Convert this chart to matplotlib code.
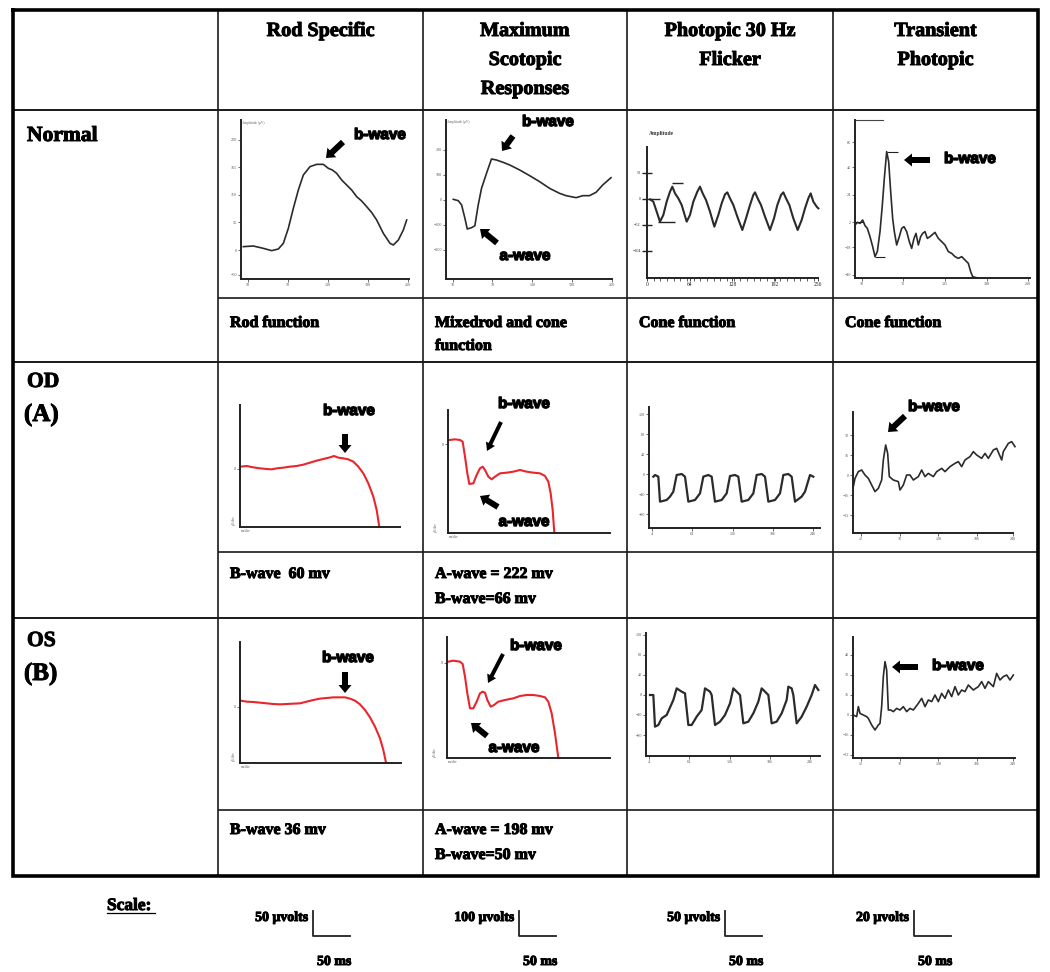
import matplotlib
matplotlib.use('Agg')
import matplotlib.pyplot as plt
from matplotlib.patches import FancyArrow
import matplotlib.patheffects as pe

plt.rcParams['font.family'] = ['Liberation Serif', 'DejaVu Serif']

W, H = 1050, 972

# ---------------- table text ----------------
column_titles = ["Rod Specific", "Maximum\nScotopic\nResponses", "Photopic 30 Hz\nFlicker", "Transient\nPhotopic"]
row_names = ["Normal", "OD", "OS"]
row_eyes = ["", "(A)", "(B)"]
normal_notes = ["Rod function", "Mixedrod and cone\nfunction", "Cone function", "Cone function"]
od_notes = ["B-wave  60 mv", "A-wave = 222 mv\nB-wave=66 mv", "", ""]
os_notes = ["B-wave 36 mv", "A-wave = 198 mv\nB-wave=50 mv", "", ""]
scale_volts = ["50 \u03bcvolts", "100 \u03bcvolts", "50 \u03bcvolts", "20 \u03bcvolts"]
scale_time = ["50 ms", "50 ms", "50 ms", "50 ms"]

# ---------------- waveforms (time in ms, amplitude in uV) ----------------
normal_rod_t = [3.5, 18.5, 33.5, 46, 56, 63.5, 71, 78.5, 86, 93.5, 103.5, 113.5, 123.5, 131, 137, 143.5,
                151, 158.5, 166, 173.5, 181, 188.5, 196, 203.5, 213.5, 223.5, 228.5, 236, 243.5, 248.5]
normal_rod_uv = [6.7, 8, 3.3, -1.3, 2, 13.3, 43.3, 83.3, 120, 150, 166.7, 171.3, 171.3, 163.3, 160, 153.3,
                 140, 130, 120, 106.7, 98, 86.7, 75, 60, 33.3, 13.3, 10, 20, 40, 60]

normal_max_t = [11, 18.5, 23.5, 28.5, 32, 38.5, 43.5, 48.5, 53.5, 61, 68.5, 76, 86, 96, 111, 126, 141,
                156, 171, 181, 196, 206, 216, 226, 236, 248.5]
normal_max_uv = [2.7, -2.7, -20, -73.3, -116, -110.7, -102.7, -20, 46.7, 106.7, 164, 160, 150.7, 140,
                 120, 97.3, 73.3, 46.7, 26.7, 17.3, 9.3, 17.3, 17.3, 30.7, 60, 89.3]

normal_flicker_t = [4.5, 9.5, 14.5, 19.5, 24.5, 29.5, 34.5, 38, 42, 47, 52, 59.5, 64.5, 69.5, 75.5, 79.5,
                    83.5, 88.5, 94.5, 101, 107, 112, 117, 120.5, 124.5, 129.5, 135.5, 143, 148.5, 154.5,
                    159.5, 162, 166, 171, 177, 184.5, 190.5, 195.5, 201, 204.5, 208.5, 213.5, 219.5, 226,
                    232, 237, 242, 245.5, 249.5, 254.5, 257]
normal_flicker_uv = [-0.7, -5.3, -25.3, -45.3, -32, -5.3, 14.7, 24.7, 11.3, 1.3, -12, -45.3, -32, -5.3,
                     14.7, 24.7, 11.3, -2, -25.3, -55.3, -32, -8.7, 9.3, 13.3, 1.3, -12, -35.3, -62, -38.7,
                     -12, 8, 13.3, 1.3, -12, -35.3, -62, -38.7, -12, 8, 13.3, 1.3, -12, -38.7, -62, -42,
                     -18.7, 1.3, 11.3, -5.3, -15.3, -18.7]
normal_flicker_cursor_t0 = [4.5, 17, 37]
normal_flicker_cursor_t1 = [19.5, 42, 54.5]
normal_flicker_cursor_uv = [0, -45.3, 31.3]

normal_transient_t = [0, 3.5, 7.5, 11.5, 15, 18.5, 22.5, 26.5, 30, 33.5, 37.5, 41, 44, 47.5, 50.5, 53.5,
                      56.5, 59, 62.5, 66.5, 70, 73.5, 77.5, 81.5, 85, 88.5, 91.5, 95, 98.5, 101.5, 105,
                      108.5, 112.5, 116.5, 120, 125, 130, 135, 140, 145, 150, 155, 160, 165, 170, 173.5,
                      176.5, 181.5, 186.5]
normal_transient_uv = [0, 2.1, 1.3, 4, -0.5, -2.7, -9.3, -17.3, -25.3, -21.3, -5.3, 16, 37.3, 58.7, 50.7,
                       26.7, 5.3, -5.3, -16, -9.3, -2.7, -1.3, -5.3, -13.3, -18.7, -10.7, -6.7, -16, -9.3,
                       -6.7, -5.3, -10.7, -9.3, -7.5, -5.9, -10.7, -13.3, -16, -21.3, -22.7, -25.3, -26.7,
                       -25.3, -28, -30.7, -37.3, -41.3, -42.1, -42.4]
normal_transient_cursor_t0 = [0, 30, 47.5]
normal_transient_cursor_t1 = [12.5, 45, 65]
normal_transient_cursor_uv = [2.1, -25.3, 58.7]

od_rod_t = [1, 10, 20, 30, 40, 47.5, 55, 65, 75, 85, 95, 105, 115, 125, 135, 141, 147.5, 155, 162.5, 170,
            177.5, 185, 192.5, 200, 205, 209]
od_rod_uv = [4.7, 6, 3.3, 1.3, 0, -0.7, 1.3, 2.7, 4.7, 6, 8.7, 12.7, 16.7, 20, 23.3, 26, 22.7, 21.3, 19.3,
             14.7, 4.7, -8.7, -28.7, -55.3, -82, -116]

od_max_t = [2, 10.5, 18, 22, 25.5, 29, 32, 38, 43, 48, 52, 55.5, 60.5, 65.5, 70.5, 78, 88, 98, 108, 118,
            128, 138, 145.5, 150.5, 154, 157, 159.5]
od_max_uv = [16, 18.7, 16, 9.3, -50.7, -117.3, -160, -157.3, -124, -97.3, -90.7, -104, -130.7, -141.3,
             -130.7, -117.3, -114.7, -110.7, -104, -110.7, -114.7, -117.3, -128, -150.7, -197.3, -264, -356]

od_flicker_t = [6.5, 9, 14, 16.5, 26.5, 31.5, 36.5, 41.5, 49, 54, 59, 69, 76.5, 81.5, 89, 94, 99, 109,
                116.5, 121.5, 129, 134, 139, 149, 156.5, 161.5, 169, 174, 179, 189, 196.5, 201.5, 209,
                214, 219, 229, 234, 241.5, 246.5]
od_flicker_uv = [-5.3, -2, -5.3, -55.3, -52, -45.3, -35.3, -2, 0, -5.3, -55.3, -52, -38.7, -5.3, -2, -5.3,
                 -55.3, -52, -38.7, -4, -2, -5.3, -55.3, -52, -38.7, -2, 0, -5.3, -55.3, -52, -38.7, -2,
                 0, -5.3, -55.3, -45.3, -35.3, -2, -5.3]

od_transient_t = [0.5, 3, 8, 13, 18, 23, 28, 33, 38, 43, 45.5, 49, 52, 54.5, 60.5, 68, 70.5, 75.5, 80.5,
                  85.5, 90.5, 98, 103, 108, 113, 120.5, 125.5, 133, 138, 145.5, 153, 158, 163, 168, 175.5,
                  180.5, 185.5, 193, 198, 203, 210.5, 215.5, 223, 225.5, 233, 238, 243]
od_transient_uv = [-9.3, -2.7, 2.7, 4, 0, -2.7, -8, -13.3, -10.7, -4, 12, 24, 17.3, -1.3, -4, -5.3, -12,
                   -8, 0, 0, -4, -1.3, 4, -1.3, 1.3, -1.3, 2.7, 5.3, 2.7, 6.7, 9.3, 10.7, 6.7, 12, 14.7,
                   18.7, 16, 13.3, 17.3, 13.3, 20, 21.3, 12, 18.7, 25.3, 26.7, 22.7]

os_rod_t = [1, 10, 20, 30, 40, 50, 60, 70, 80, 90, 100, 110, 120, 130, 140, 150, 157.5, 165, 172.5, 180,
            187.5, 195, 202.5, 210, 215, 219]
os_rod_uv = [12.7, 10.7, 10, 8.7, 7.3, 6, 5.3, 6, 6.7, 7.3, 10.7, 14, 16.7, 18, 19.3, 19.3, 19.3, 16.7,
             12.7, 5.3, -6, -20.7, -39.3, -62.7, -86, -111.3]

os_max_t = [2, 9.5, 19.5, 23.5, 27, 30.5, 34.5, 39.5, 44.5, 49.5, 53.5, 57, 60.5, 65.5, 70.5, 77, 87,
            99.5, 109.5, 119.5, 129.5, 139.5, 147, 152, 157, 162, 167]
os_max_uv = [5.3, 9.3, 5.3, -4, -54.7, -121.3, -181.3, -181.3, -154.7, -121.3, -114.7, -118.7, -148,
             -174.7, -168, -154.7, -148, -141.3, -132, -128, -128, -132, -137.3, -154.7, -201.3, -281.3,
             -380]

os_flicker_t = [6, 11, 13.5, 18.5, 23.5, 31, 41, 46, 53.5, 58.5, 63.5, 68.5, 76, 83.5, 88.5, 96, 98.5,
                103.5, 111, 118.5, 126, 131, 136, 141, 146, 153.5, 161, 168.5, 173.5, 178.5, 183.5, 188.5,
                196, 203.5, 211, 213.5, 218.5, 221, 226, 233.5, 241, 248.5, 253.5, 258.5]
os_flicker_uv = [0, 0, -63.3, -60, -46.7, -40, -10, 13.3, 6.7, 3.3, -60, -60, -43.3, -30, 13.3, 6.7, 0,
                 -60, -53.3, -40, -16.7, 13.3, 6.7, 0, -56.7, -53.3, -36.7, -13.3, 13.3, 6.7, 0, -56.7,
                 -53.3, -36.7, -10, 16.7, 13.3, 0, -56.7, -43.3, -23.3, 0, 20, 10]

os_transient_t = [0.5, 5.5, 8, 10.5, 15.5, 20.5, 23, 28, 33, 38, 40.5, 43, 45.5, 48, 50.5, 53, 56.5, 60.5,
                  65.5, 70.5, 75.5, 80.5, 85.5, 90.5, 98, 103, 108, 113, 118, 123, 128, 133, 138, 143,
                  148, 153, 158, 163, 168, 173, 180.5, 188, 193, 198, 203, 210.5, 215.5, 220.5, 225.5,
                  230.5, 235.5, 240.5]
os_transient_uv = [0, -1.3, 6.7, 1.3, 0, -1.3, -2.7, -8, -12, -8, -6.7, 6.7, 30.7, 42.7, 36, 4, 4, 2.7,
                   5.3, 4, 6.7, 2.7, 5.3, 4, 9.3, 13.3, 6.7, 12, 10.7, 16, 10.7, 17.3, 13.3, 20, 14.7,
                   22.7, 16, 20, 18.7, 24, 20, 22.7, 26.7, 21.3, 26.7, 22.7, 33.3, 28, 30.7, 32, 28, 32]

# ---------------- figure ----------------
fig = plt.figure(figsize=(W / 100, H / 100), dpi=100)
base = fig.add_axes([0, 0, 1, 1])
base.set_xlim(0, W)
base.set_ylim(H, 0)
base.axis('off')

col_x = [13, 218, 423, 627, 833, 1038]
top, bottom = 10, 876
line_c = '#1a1a1a'

for x in col_x[1:-1]:
    base.plot([x, x], [top, bottom], color=line_c, lw=1.2, solid_capstyle='butt')
for y in [110, 362, 618]:
    base.plot([col_x[0], col_x[-1]], [y, y], color=line_c, lw=1.4, solid_capstyle='butt')
for y in [298, 552, 810]:
    base.plot([col_x[1], col_x[-1]], [y, y], color=line_c, lw=1.2, solid_capstyle='butt')
base.plot([col_x[0], col_x[-1], col_x[-1], col_x[0], col_x[0]], [top, top, bottom, bottom, top],
          color='black', lw=2.6, solid_joinstyle='miter')

heavy = [pe.withStroke(linewidth=0.7, foreground='black')]
bold = dict(fontweight='bold', color='black', path_effects=heavy)

for i, title in enumerate(column_titles):
    cx = (col_x[i + 1] + col_x[i + 2]) / 2
    for k, line in enumerate(title.split('\n')):
        base.text(cx, 36 + 29 * k, line, ha='center', va='baseline', fontsize=14.5, **bold)

row_base = [141, 387, 646]
for i, name in enumerate(row_names):
    base.text(27, row_base[i], name, ha='left', va='baseline', fontsize=15.5, **bold)
    if row_eyes[i]:
        base.text(24, row_base[i] + 34, row_eyes[i], ha='left', va='baseline', fontsize=18, **bold)

def notes(lst, y0, dy=25):
    for i, s in enumerate(lst):
        for k, line in enumerate(s.split('\n')):
            if line:
                base.text(col_x[i + 1] + 12, y0 + dy * k, line, ha='left', va='baseline',
                          fontsize=11.5, **bold)

notes(normal_notes, 327, 23)
notes(od_notes, 578)
notes(os_notes, 834)

base.text(107, 910, "Scale:", ha='left', va='baseline', fontsize=12.5, **bold)
base.plot([107, 155], [913, 913], color='black', lw=0.9)
bar_x = [313, 519, 725, 914]
for i in range(4):
    bx = bar_x[i]
    base.text(bx - 5, 921, scale_volts[i], ha='right', va='baseline', fontsize=10, **bold)
    base.plot([bx, bx, bx + 37], [911, 936, 936], color='#222', lw=1.3)
    base.text(bx + 4, 965, scale_time[i], ha='left', va='baseline', fontsize=10, **bold)

# ---------------- waveform panels ----------------
def panel(box, xlim, ylim, t, v, color, lw=1.2, yticks=(), xticks=(), ylabels=True):
    x0, yT, x1, yB = box
    ax = fig.add_axes([x0 / W, 1 - yB / H, (x1 - x0) / W, (yB - yT) / H])
    ax.patch.set_visible(False)
    ax.set_xlim(*xlim)
    ax.set_ylim(*ylim)
    for s in ['top', 'right']:
        ax.spines[s].set_visible(False)
    for s in ['left', 'bottom']:
        ax.spines[s].set_linewidth(1.4)
        ax.spines[s].set_color('#222')
    ax.plot(t, v, color=color, lw=lw, clip_on=False, solid_joinstyle='round')
    ax.set_yticks(list(yticks))
    ax.set_xticks(list(xticks))
    ax.tick_params(labelsize=3, length=2, width=0.6, pad=1, colors='#555')
    if not ylabels:
        ax.set_yticklabels([])
    return ax

dark = '#2b2b2b'
red = '#e8262b'
grid_t = [10, 70, 130, 190, 250]

a = panel((241, 120, 409, 279), (0, 252), (-58, 260), normal_rod_t, normal_rod_uv, dark,
          yticks=[-50, 0, 55, 110, 165, 220], xticks=grid_t)
a.text(2, 258, "Amplitude (\u03bcV)", fontsize=2.5, color='#666', va='top')
a = panel((446, 120, 612, 279), (0, 249), (-316, 320), normal_max_t, normal_max_uv, dark,
          yticks=[-200, -100, 0, 100, 200], xticks=grid_t)
a.text(2, 318, "Amplitude (\u03bcV)", fontsize=2.5, color='#666', va='top')

a = panel((647, 147, 818, 278), (0, 256.5), (-158, 104), normal_flicker_t, normal_flicker_uv, dark,
          lw=1.5, yticks=[-104, -52, 0, 52], xticks=[0, 64, 128, 192, 256])
a.tick_params(axis='y', direction='inout', length=7, width=1.0, colors='#222', labelsize=3)
a.set_xticks(list(range(0, 257, 10)), minor=True)
a.tick_params(axis='x', which='minor', length=2, width=0.6, colors='#444')
a.tick_params(axis='x', which='major', labelsize=4, colors='#222')
a.hlines(normal_flicker_cursor_uv, normal_flicker_cursor_t0, normal_flicker_cursor_t1, color='#222', lw=1.0)
a.text(3, 136, "Amplitude", fontsize=4, color='#333', va='top', fontweight='bold')

a = panel((855, 120, 1030, 278), (0, 262.5), (-42.4, 84), normal_transient_t, normal_transient_uv, dark,
          lw=1.2, yticks=[-40, -18, 2, 24, 46, 66], xticks=[10, 72, 135, 198, 260])
a.hlines(normal_transient_cursor_uv, normal_transient_cursor_t0, normal_transient_cursor_t1, color='#222', lw=0.8)
a.plot([0, 42], [84, 84], color='#444', lw=0.8, clip_on=False)

a = panel((240, 405, 400, 527), (0, 240), (-116, 128), od_rod_t, od_rod_uv, red, lw=1.5,
          yticks=[0], xticks=[])
a.text(-12, -112, "\u03bcV/div", fontsize=2.5, rotation=90, color='#555', va='bottom')
a.text(2, -120, "ms/div", fontsize=2.5, color='#555', va='top')
a = panel((448, 410, 610, 533), (0, 243), (-356, 136), od_max_t, od_max_uv, red, lw=1.5,
          yticks=[0], xticks=[])
a.text(-22, -350, "\u03bcV/div", fontsize=2.5, rotation=90, color='#555', va='bottom')
a.text(2, -364, "ms/div", fontsize=2.5, color='#555', va='top')
a = panel((649, 407, 820, 528), (0, 256.5), (-108, 134), od_flicker_t, od_flicker_uv, dark, lw=1.6,
          yticks=[-80, -40, 0, 40, 80, 120], xticks=[4, 64, 126, 186, 246])
a = panel((853, 412, 1013, 533), (0, 240), (-46.4, 50.4), od_transient_t, od_transient_uv, dark, lw=1.2,
          yticks=[-32, -16, 0, 16, 32], xticks=[12, 70, 128, 186, 240])

a = panel((240, 642, 401, 763), (0, 241.5), (-112, 130), os_rod_t, os_rod_uv, red, lw=1.5,
          yticks=[0], xticks=[])
a.text(-12, -108, "\u03bcV/div", fontsize=2.5, rotation=90, color='#555', va='bottom')
a.text(2, -116, "ms/div", fontsize=2.5, color='#555', va='top')
a = panel((447, 637, 610, 758), (0, 244.5), (-380, 104), os_max_t, os_max_uv, red, lw=1.5,
          yticks=[0], xticks=[])
a.text(-22, -375, "\u03bcV/div", fontsize=2.5, rotation=90, color='#555', va='bottom')
a.text(2, -388, "ms/div", fontsize=2.5, color='#555', va='top')
a = panel((646, 633, 820, 756), (0, 261), (-122, 124), os_flicker_t, os_flicker_uv, dark, lw=1.6,
          yticks=[-80, -40, 0, 40, 80, 120], xticks=[4, 64, 126, 186, 246])
a = panel((853, 637, 1015, 758), (0, 243), (-34.4, 62.4), os_transient_t, os_transient_uv, dark, lw=1.2,
          yticks=[-32, -16, 0, 16, 32, 48], xticks=[12, 70, 128, 186, 240])

# ---------------- annotations (labels + block arrows) ----------------
label_font = dict(family=['Liberation Sans', 'DejaVu Sans'], fontweight='bold', fontsize=11,
                  color='black', ha='center', va='center',
                  path_effects=[pe.withStroke(linewidth=1.0, foreground='black')])
wave_labels = [
    ("b-wave", 380, 135), ("b-wave", 548, 122), ("a-wave", 525, 256), ("b-wave", 970, 159),
    ("b-wave", 349, 411), ("b-wave", 524, 404), ("a-wave", 524, 522), ("b-wave", 934, 407),
    ("b-wave", 348, 658), ("b-wave", 536, 646), ("a-wave", 514, 748), ("b-wave", 958, 666),
]
for s, x, y in wave_labels:
    base.text(x, y, s, **label_font)

fat_arrows = [
    ((343, 142), (326, 158)), ((513, 136), (502, 151)), ((497, 243), (480, 229)), ((930, 160), (904, 160)),
    ((345, 434), (345, 453)), ((498, 507), (480, 496)), ((905, 416), (888, 432)),
    ((345, 672), (345, 693)), ((487, 736), (471, 723)), ((918, 667), (892, 667)),
]
for (xa, ya), (xb, yb) in fat_arrows:
    base.add_patch(FancyArrow(xa, ya, xb - xa, yb - ya, width=6, head_width=13, head_length=8,
                              length_includes_head=True, color='black', lw=0))
thin_arrows = [((501, 422), (487, 451)), ((503, 654), (488, 683))]
for (xa, ya), (xb, yb) in thin_arrows:
    base.add_patch(FancyArrow(xa, ya, xb - xa, yb - ya, width=4, head_width=10, head_length=8,
                              length_includes_head=True, color='black', lw=0))

fig.savefig('out.png', dpi=100, facecolor='white')
